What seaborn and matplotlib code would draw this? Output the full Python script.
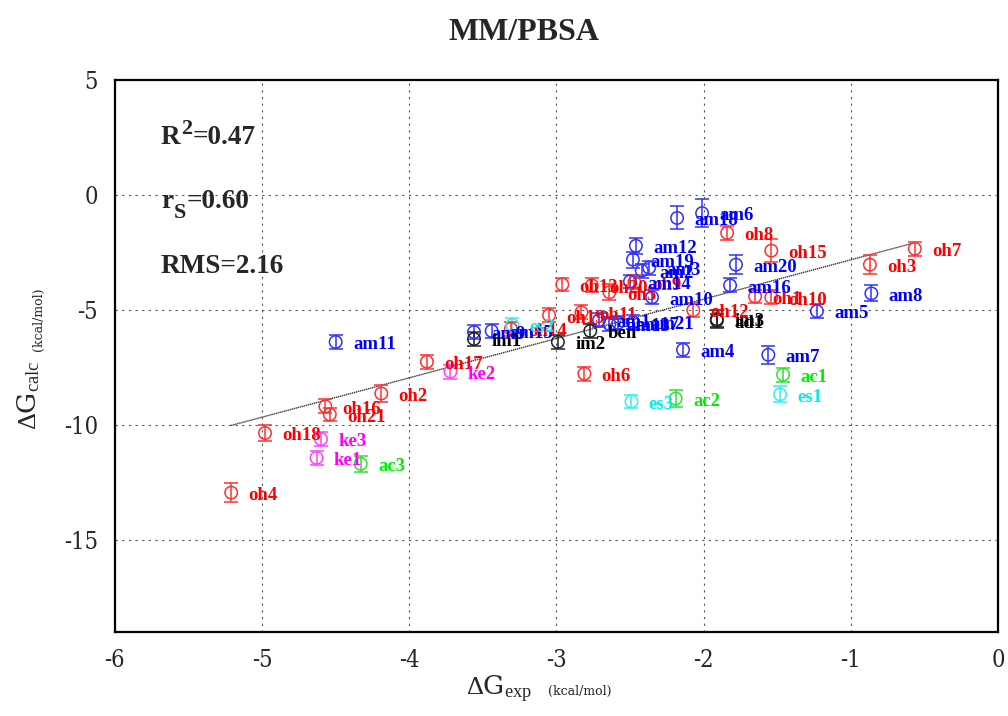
import numpy as np
import pandas as pd
import matplotlib
matplotlib.use("Agg")
import matplotlib.pyplot as plt
from matplotlib import font_manager
import seaborn as sns

# ---- data ----
oh_names = ["oh1", "oh2", "oh3", "oh4", "oh5", "oh6", "oh7", "oh8", "oh9", "oh10",
            "oh11", "oh12", "oh13", "oh14", "oh15", "oh16", "oh17", "oh18", "oh19", "oh20", "oh21"]
oh_exp = [-1.65, -4.19, -0.87, -5.21, -2.64, -2.81, -0.565, -1.84, -2.47, -1.54,
          -2.83, -2.07, -2.96, -3.31, -1.54, -4.57, -3.88, -4.98, -3.05, -2.76, -4.54]
oh_calc = [-4.40, -8.62, -3.02, -12.93, -4.22, -7.76, -2.33, -1.64, -3.79, -4.44,
           -5.09, -5.00, -3.88, -5.81, -2.41, -9.18, -7.24, -10.34, -5.22, -3.92, -9.53]
oh_err = [0.3, 0.35, 0.4, 0.4, 0.35, 0.3, 0.3, 0.3, 0.3, 0.3,
          0.3, 0.3, 0.3, 0.3, 0.5, 0.3, 0.3, 0.35, 0.3, 0.3, 0.3]

am_names = ["am1", "am2", "am3", "am4", "am5", "am6", "am7", "am8", "am9", "am10", "am11",
            "am12", "am13", "am14", "am15", "am16", "am17", "am18", "am19", "am20", "am21"]
am_exp = [-2.71, -2.42, -2.37, -2.14, -1.23, -2.01, -1.56, -0.86, -3.56, -2.35, -4.50,
          -2.46, -2.64, -2.50, -3.44, -1.82, -2.58, -2.18, -2.48, -1.78, -2.48]
am_calc = [-5.43, -3.28, -3.15, -6.72, -5.04, -0.78, -6.94, -4.27, -5.95, -4.44, -6.38,
           -2.20, -5.60, -3.75, -5.90, -3.92, -5.55, -0.99, -2.80, -3.02, -5.52]
am_err = [0.3, 0.3, 0.3, 0.3, 0.3, 0.6, 0.4, 0.35, 0.3, 0.3, 0.3,
          0.35, 0.3, 0.3, 0.3, 0.3, 0.3, 0.5, 0.35, 0.4, 0.3]

im_names = ["im1", "im2", "ben", "im3", "ad1"]
im_exp = [-3.56, -2.99, -2.77, -1.91, -1.91]
im_calc = [-6.25, -6.38, -5.90, -5.39, -5.45]
im_err = [0.3, 0.3, 0.3, 0.4, 0.3]

ke_names = ["ke1", "ke2", "ke3"]
ke_exp = [-4.63, -3.72, -4.60]
ke_calc = [-11.42, -7.67, -10.60]
ke_err = [0.3, 0.3, 0.3]

ac_names = ["ac1", "ac2", "ac3"]
ac_exp = [-1.46, -2.19, -4.33]
ac_calc = [-7.80, -8.84, -11.68]
ac_err = [0.3, 0.35, 0.35]

es_names = ["es1", "es2", "es3"]
es_exp = [-1.48, -3.30, -2.49]
es_calc = [-8.66, -5.65, -8.97]
es_err = [0.35, 0.3, 0.3]

fit_slope = 1.71
fit_intercept = -1.10

# statistics text pieces: (main, script, script_kind, rest)
stats_pieces = [("R", "2", "sup", "=0.47"),
                ("r", "S", "sub", "=0.60"),
                ("RMS=2.16", "", "", "")]
x_ticks = [-6, -5, -4, -3, -2, -1, 0]
y_ticks = [5, 0, -5, -10, -15]

# ---- build table ----
groups = [("oh", oh_names, oh_exp, oh_calc, oh_err),
          ("am", am_names, am_exp, am_calc, am_err),
          ("im", im_names, im_exp, im_calc, im_err),
          ("ke", ke_names, ke_exp, ke_calc, ke_err),
          ("ac", ac_names, ac_exp, ac_calc, ac_err),
          ("es", es_names, es_exp, es_calc, es_err)]
rows = []
for g, n, xe, yc, er in groups:
    for a, b, c, d in zip(n, xe, yc, er):
        rows.append(dict(group=g, name=a, exp=b, calc=c, err=d))
df = pd.DataFrame(rows)

marker_col = {"oh": "#ff3030", "am": "#3030ff", "im": "#202020",
              "ke": "#ff40ff", "ac": "#30e030", "es": "#30f0f0"}
text_col = {"oh": "#ff0000", "am": "#0000ff", "im": "#000000",
            "ke": "#ff00ff", "ac": "#00ee00", "es": "#00eeee"}

sns.set_style("white")
installed = {f.name for f in font_manager.fontManager.ttflist}
serif_pick = next((n for n in ["Liberation Serif", "Times New Roman", "Nimbus Roman",
                               "TeX Gyre Termes", "FreeSerif", "DejaVu Serif"] if n in installed),
                  "DejaVu Serif")
plt.rcParams["font.family"] = [serif_pick, "DejaVu Serif"]
plt.rcParams["mathtext.fontset"] = "custom"
plt.rcParams["mathtext.rm"] = serif_pick
plt.rcParams["mathtext.bf"] = serif_pick + ":bold"
plt.rcParams["mathtext.it"] = serif_pick + ":italic"

tick_font = "DejaVu Serif"

fig = plt.figure(figsize=(10.08, 7.16), dpi=100)
ax = fig.add_axes([0.114, 0.117, 0.876, 0.771])

# grid
for xv in x_ticks[1:-1]:
    ax.axvline(xv, color="#555555", ls=(0, (2, 4)), lw=0.8, zorder=0)
for yv in y_ticks[1:]:
    ax.axhline(yv, color="#555555", ls=(0, (2, 4)), lw=0.8, zorder=0)

# fit line
fx = np.array([df["exp"].min(), df["exp"].max()])
ax.plot(fx, fit_slope * fx + fit_intercept, color="#333333", lw=1.0, ls=(0, (1, 0.5)), zorder=1)

# error bars
for g, sub in df.groupby("group"):
    ax.errorbar(sub["exp"], sub["calc"], yerr=sub["err"], fmt="none",
                ecolor=marker_col[g], elinewidth=1.1, capsize=5, capthick=1.1, zorder=2)

# points via seaborn
sns.scatterplot(data=df, x="exp", y="calc", hue="group", palette=marker_col,
                marker="o", s=80, linewidth=1.1, legend=False, ax=ax, zorder=3)
coll = ax.collections[-1]
coll.set_edgecolors(coll.get_facecolors())
coll.set_facecolors("none")

# labels
for _, r in df.iterrows():
    ax.annotate(r["name"], (r["exp"], r["calc"]), xytext=(12.5, -2), textcoords="offset points",
                color=text_col[r["group"]], fontsize=13.5, fontweight="bold",
                va="center", ha="left", zorder=4)

# stats
big = 19.5
small = 16
for i, (main, scr, kind, rest) in enumerate(stats_pieces):
    t0 = ax.text(0.052, 0.874 - i * 0.117, main, transform=ax.transAxes, fontsize=big,
                 fontweight="bold", va="bottom", ha="left")
    if scr:
        dy = 8 if kind == "sup" else -6
        t1 = ax.annotate(scr, xy=(1, 0), xycoords=t0, xytext=(0.5, dy),
                         textcoords="offset points", fontsize=small, fontweight="bold",
                         va="bottom", ha="left")
        ax.annotate(rest, xy=(1, 0), xycoords=(t1, t0), xytext=(0.5, 0),
                    textcoords="offset points", fontsize=big, fontweight="bold",
                    va="bottom", ha="left")

ax.set_xlim(-6, 0)
ax.set_ylim(-19, 5)
ax.set_xticks(x_ticks)
ax.set_yticks(y_ticks)
ax.set_xticklabels([str(v) for v in x_ticks], fontsize=17, fontfamily=tick_font,
                   fontstretch="condensed")
ax.set_yticklabels([str(v) for v in y_ticks], fontsize=17, fontfamily=tick_font,
                   fontstretch="condensed")
ax.tick_params(axis="both", length=0, pad=12)
for s in ax.spines.values():
    s.set_linewidth(1.6)
    s.set_color("black")
    s.set_visible(True)

# axis labels (main part + small unit text)
ax.set_xlabel("")
ax.set_ylabel("")
ax.text(0.435, -0.103, r"$\Delta$G$_{\mathrm{exp}}$", transform=ax.transAxes, fontsize=19,
        fontfamily=tick_font, ha="center", va="center")
ax.text(0.49, -0.108, "(kcal/mol)", transform=ax.transAxes, fontsize=9,
        fontfamily=tick_font, ha="left", va="center")
ax.text(-0.098, 0.43, r"$\Delta$G$_{\mathrm{calc}}$", transform=ax.transAxes, fontsize=19,
        fontfamily=tick_font, ha="center", va="center", rotation=90)
ax.text(-0.087, 0.51, "(kcal/mol)", transform=ax.transAxes, fontsize=9,
        fontfamily=tick_font, ha="center", va="bottom", rotation=90)

fig.text(0.52, 0.955, "MM/PBSA", fontsize=23, fontweight="bold", ha="center", va="center")

fig.savefig("out.png", dpi=100)
